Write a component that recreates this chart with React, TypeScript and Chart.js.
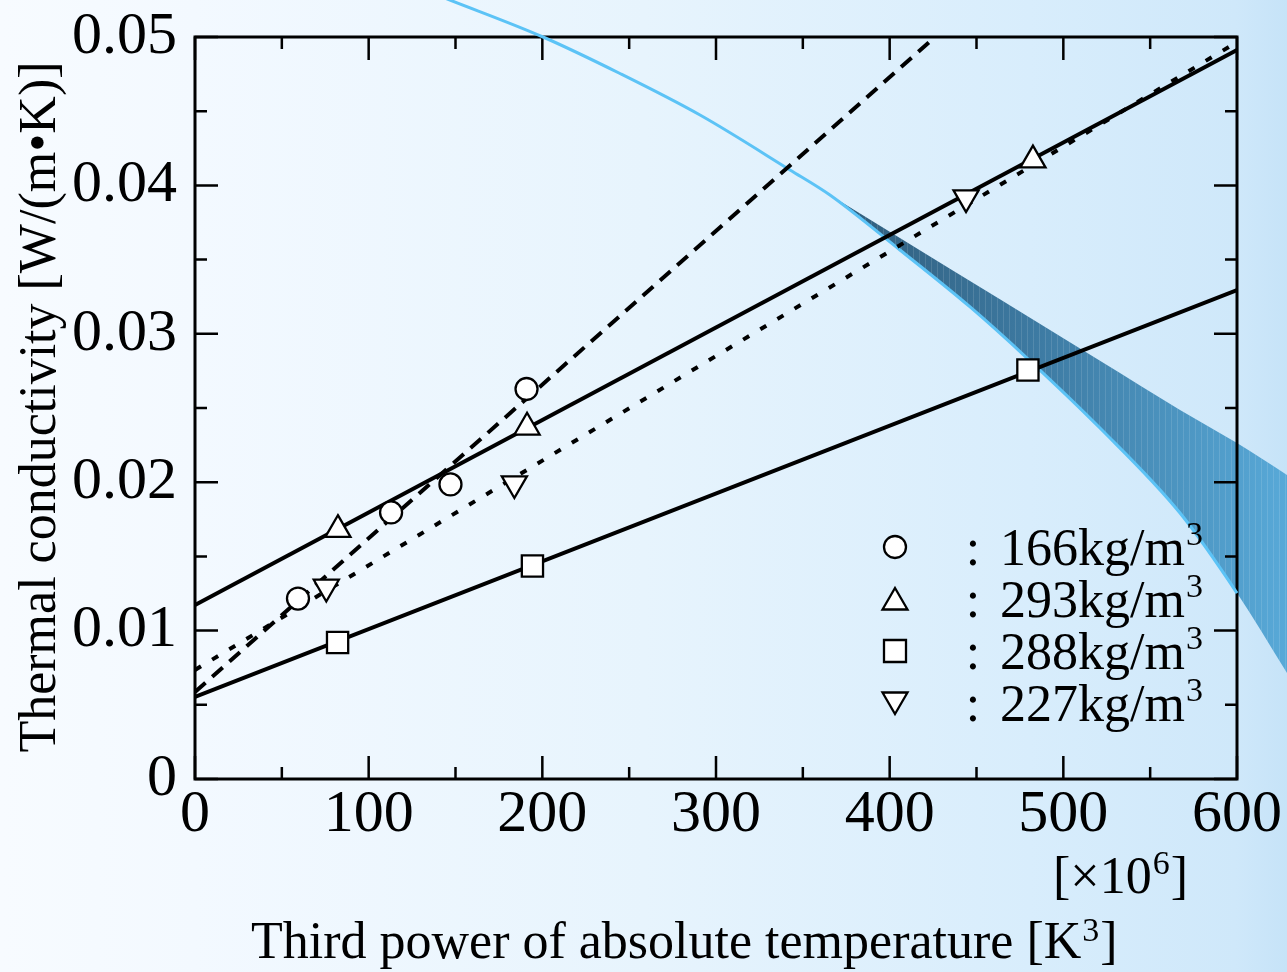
import React, { useEffect, useRef } from 'react';
import { Chart, registerables } from 'chart.js';
Chart.register(...registerables);

const FONT = "'Liberation Serif', 'Times New Roman', serif";

// ---- axis ticks ----
const xTickValues = [0, 100, 200, 300, 400, 500, 600];
const xTickLabels = ['0', '100', '200', '300', '400', '500', '600'];
const xMinorValues = [50, 150, 250, 350, 450, 550];
const yTickValues = [0, 0.01, 0.02, 0.03, 0.04, 0.05];
const yTickLabels = ['0', '0.01', '0.02', '0.03', '0.04', '0.05'];
const yMinorValues = [0.005, 0.015, 0.025, 0.035, 0.045];

// ---- measured points ----
const d166X = [59.3, 112.9, 147.1, 190.9];
const d166Y = [0.01216, 0.01796, 0.01985, 0.02628];
const d293X = [82.3, 191.2, 482.5];
const d293Y = [0.0168, 0.0237, 0.0417];
const d288X = [82.1, 194.3, 479.6];
const d288Y = [0.0092, 0.01435, 0.02756];
const d227X = [75.6, 183.9, 444.0];
const d227Y = [0.01294, 0.01991, 0.03918];

// ---- fitted lines ----
const fit166X = [0, 426.1];
const fit166Y = [0.00586, 0.05];
const fit293X = [0, 600];
const fit293Y = [0.01173, 0.04912];
const fit288X = [0, 600];
const fit288Y = [0.00553, 0.03295];
const fit227X = [0, 600];
const fit227Y = [0.00735, 0.04966];

// ---- blue curve and band ----
const curveX = [135.0, 146.8, 200.4, 244.7, 290.8, 342.6, 365.6, 405.9, 446.3, 479.7, 521.1, 567.2, 600, 628.8];
const curveY = [0.05303, 0.05249, 0.05, 0.04754, 0.04474, 0.04104, 0.03935, 0.03565, 0.03181, 0.0283, 0.02365, 0.01792, 0.01253, 0.00714];
const bandUpperX = [365.6, 405.9, 463.5, 521.1, 567.2, 600, 628.8];
const bandUpperY = [0.03935, 0.03646, 0.03232, 0.02818, 0.02487, 0.02264, 0.02049];

// ---- legend ----
const legendNames = ['166kg/m', '293kg/m', '288kg/m', '227kg/m'];
const legendShapes = ['circle', 'triangle', 'rect', 'invtriangle'];

const zip = (xs: number[], ys: number[]) => xs.map((x, i) => ({ x, y: ys[i] }));

const CURVE_INDEX = 8;
const UPPER_INDEX = 9;
const BAND_START = curveX.indexOf(bandUpperX[0]);

function traceEdge(ctx: CanvasRenderingContext2D, pts: any[], reverse: boolean, first: boolean) {
  const p = reverse ? [...pts].reverse() : pts;
  if (first) ctx.moveTo(p[0].x, p[0].y);
  else ctx.lineTo(p[0].x, p[0].y);
  for (let i = 1; i < p.length; i++) {
    const a = p[i - 1];
    const b = p[i];
    if (a.cp1x === undefined || b.cp1x === undefined) {
      ctx.lineTo(b.x, b.y);
    } else if (!reverse) {
      ctx.bezierCurveTo(a.cp2x, a.cp2y, b.cp1x, b.cp1y, b.x, b.y);
    } else {
      ctx.bezierCurveTo(a.cp1x, a.cp1y, b.cp2x, b.cp2y, b.x, b.y);
    }
  }
}

function drawShape(ctx: CanvasRenderingContext2D, shape: string, cx: number, cy: number) {
  ctx.save();
  ctx.fillStyle = '#ffffff';
  ctx.strokeStyle = '#000000';
  ctx.lineWidth = 2.3;
  ctx.beginPath();
  if (shape === 'circle') {
    ctx.arc(cx, cy, 11, 0, Math.PI * 2);
  } else if (shape === 'triangle') {
    ctx.moveTo(cx, cy - 11);
    ctx.lineTo(cx + 12.5, cy + 10.5);
    ctx.lineTo(cx - 12.5, cy + 10.5);
    ctx.closePath();
  } else if (shape === 'invtriangle') {
    ctx.moveTo(cx, cy + 11);
    ctx.lineTo(cx + 12.5, cy - 10.5);
    ctx.lineTo(cx - 12.5, cy - 10.5);
    ctx.closePath();
  } else {
    ctx.rect(cx - 11, cy - 11, 22, 22);
  }
  ctx.fill();
  ctx.stroke();
  ctx.restore();
}

const bgPlugin = {
  id: 'bgGradient',
  beforeDraw(chart: any) {
    const { ctx, width, height } = chart;
    const g = ctx.createLinearGradient(0, 0, width, 0);
    g.addColorStop(0, '#f7fbff');
    g.addColorStop(0.15, '#f3f9ff');
    g.addColorStop(0.5, '#e7f4fd');
    g.addColorStop(0.8, '#d8edfc');
    g.addColorStop(0.96, '#cfe8fa');
    g.addColorStop(1, '#c6e3f8');
    ctx.save();
    ctx.fillStyle = g;
    ctx.fillRect(0, 0, width, height);
    ctx.restore();
  },
};

const bandFramePlugin = {
  id: 'bandFrame',
  beforeDatasetsDraw(chart: any) {
    const { ctx, chartArea } = chart;
    const xs = chart.scales.x;
    const ys = chart.scales.y;
    // band
    const curveMeta = chart.getDatasetMeta(CURVE_INDEX);
    const upperMeta = chart.getDatasetMeta(UPPER_INDEX);
    curveMeta.dataset.updateControlPoints(chartArea, 'x');
    upperMeta.dataset.updateControlPoints(chartArea, 'x');
    const lower = curveMeta.data.slice(BAND_START);
    const upper = upperMeta.data;
    ctx.save();
    ctx.beginPath();
    traceEdge(ctx, upper, false, true);
    traceEdge(ctx, lower, true, false);
    ctx.closePath();
    const x0 = upper[0].x;
    const x1 = chart.width;
    const g = ctx.createLinearGradient(x0, 0, x1, 0);
    g.addColorStop(0, '#2f5b79');
    g.addColorStop(0.45, '#3d7aa2');
    g.addColorStop(1, '#58a9d8');
    ctx.fillStyle = g;
    ctx.fill();
    ctx.clip();
    ctx.strokeStyle = 'rgba(255,255,255,0.12)';
    ctx.lineWidth = 1;
    for (let x = Math.floor(x0); x < x1; x += 6) {
      ctx.beginPath();
      ctx.moveTo(x + 0.5, 0);
      ctx.lineTo(x + 0.5, chart.height);
      ctx.stroke();
    }
    ctx.restore();

    // frame and inward ticks
    const { left, right, top, bottom } = chartArea;
    ctx.save();
    ctx.strokeStyle = '#000000';
    ctx.lineWidth = 2.5;
    const major = 23;
    const minor = 12;
    ctx.beginPath();
    xTickValues.forEach((v) => {
      const px = xs.getPixelForValue(v);
      ctx.moveTo(px, bottom);
      ctx.lineTo(px, bottom - major);
      ctx.moveTo(px, top);
      ctx.lineTo(px, top + major);
    });
    xMinorValues.forEach((v) => {
      const px = xs.getPixelForValue(v);
      ctx.moveTo(px, bottom);
      ctx.lineTo(px, bottom - minor);
      ctx.moveTo(px, top);
      ctx.lineTo(px, top + minor);
    });
    yTickValues.forEach((v) => {
      const py = ys.getPixelForValue(v);
      ctx.moveTo(left, py);
      ctx.lineTo(left + major, py);
      ctx.moveTo(right, py);
      ctx.lineTo(right - major, py);
    });
    yMinorValues.forEach((v) => {
      const py = ys.getPixelForValue(v);
      ctx.moveTo(left, py);
      ctx.lineTo(left + minor, py);
      ctx.moveTo(right, py);
      ctx.lineTo(right - minor, py);
    });
    ctx.stroke();
    ctx.lineWidth = 3;
    ctx.strokeRect(left, top, right - left, bottom - top);
    ctx.restore();
  },
};

const textPlugin = {
  id: 'texts',
  afterDraw(chart: any) {
    const { ctx } = chart;
    ctx.save();
    ctx.fillStyle = '#000000';
    ctx.textBaseline = 'alphabetic';
    const big = `52px ${FONT}`;
    const sup = `34px ${FONT}`;

    // y title
    ctx.save();
    ctx.translate(55, 407);
    ctx.rotate(-Math.PI / 2);
    ctx.font = big;
    ctx.textAlign = 'center';
    ctx.fillText('Thermal conductivity [W/(m\u2022K)]', 0, 0);
    ctx.restore();

    ctx.textAlign = 'left';
    // x title
    let x = 251;
    const base = 958;
    ctx.font = big;
    const t1 = 'Third power of absolute temperature [K';
    ctx.fillText(t1, x, base);
    x += ctx.measureText(t1).width + 1;
    ctx.font = sup;
    ctx.fillText('3', x, base - 17);
    x += ctx.measureText('3').width + 1;
    ctx.font = big;
    ctx.fillText(']', x, base);

    // multiplier
    x = 1053;
    const base2 = 893;
    const t2 = '[\u00d710';
    ctx.font = big;
    ctx.fillText(t2, x, base2);
    x += ctx.measureText(t2).width + 1;
    ctx.font = sup;
    ctx.fillText('6', x, base2 - 19);
    x += ctx.measureText('6').width + 1;
    ctx.font = big;
    ctx.fillText(']', x, base2);

    // legend
    const baselines = [565, 617, 669, 721];
    legendNames.forEach((name, i) => {
      const b = baselines[i];
      drawShape(ctx, legendShapes[i], 895, b - 18);
      ctx.fillStyle = '#000000';
      ctx.font = big;
      ctx.textAlign = 'center';
      ctx.fillText(':', 973, b);
      ctx.textAlign = 'left';
      ctx.fillText(name, 1000, b);
      const w = ctx.measureText(name).width;
      ctx.font = sup;
      ctx.fillText('3', 1000 + w + 1, b - 20);
    });
    ctx.restore();
  },
};

const markerBase = {
  showLine: false,
  pointBackgroundColor: '#ffffff',
  pointBorderColor: '#000000',
  pointBorderWidth: 2.3,
  order: 0,
};

const lineBase = {
  showLine: true,
  borderColor: '#000000',
  borderWidth: 4,
  pointRadius: 0,
  fill: false,
  order: 1,
};

export default function App() {
  const ref = useRef<HTMLCanvasElement | null>(null);
  useEffect(() => {
    document.body.style.margin = '0';
    const canvas = ref.current;
    if (!canvas) return;
    const chart = new Chart(canvas, {
      type: 'scatter',
      data: {
        datasets: [
          { ...markerBase, label: '166', data: zip(d166X, d166Y), pointStyle: 'circle', pointRadius: 11 },
          { ...markerBase, label: '293', data: zip(d293X, d293Y), pointStyle: 'triangle', pointRadius: 14.5 },
          { ...markerBase, label: '288', data: zip(d288X, d288Y), pointStyle: 'rect', pointRadius: 15 },
          { ...markerBase, label: '227', data: zip(d227X, d227Y), pointStyle: 'triangle', rotation: 180, pointRadius: 14.5 },
          { ...lineBase, label: 'fit166', data: zip(fit166X, fit166Y), borderDash: [14, 9] },
          { ...lineBase, label: 'fit293', data: zip(fit293X, fit293Y) },
          { ...lineBase, label: 'fit288', data: zip(fit288X, fit288Y) },
          { ...lineBase, label: 'fit227', data: zip(fit227X, fit227Y), borderDash: [7, 13] },
          {
            label: 'curve',
            data: zip(curveX, curveY),
            showLine: true,
            borderColor: '#5cc3f6',
            borderWidth: 3,
            pointRadius: 0,
            cubicInterpolationMode: 'monotone',
            capBezierPoints: false,
            clip: false,
            fill: false,
            order: 5,
          },
          {
            label: 'upper',
            data: zip(bandUpperX, bandUpperY),
            showLine: true,
            borderWidth: 0,
            borderColor: 'rgba(0,0,0,0)',
            pointRadius: 0,
            cubicInterpolationMode: 'monotone',
            capBezierPoints: false,
            clip: false,
            fill: false,
            order: 6,
          },
        ],
      } as any,
      options: {
        animation: false,
        responsive: false,
        devicePixelRatio: 1,
        events: [],
        layout: { padding: { top: 37, right: 50, left: 0, bottom: 0 } },
        plugins: { legend: { display: false }, tooltip: { enabled: false } },
        scales: {
          x: {
            type: 'linear',
            min: 0,
            max: 600,
            grid: { display: false },
            border: { display: false },
            afterFit: (s: any) => {
              s.height = 193;
              s.paddingLeft = 0;
              s.paddingRight = 0;
            },
            afterBuildTicks: (s: any) => { s.ticks = xTickValues.map((v) => ({ value: v })); },
            ticks: {
              font: { family: FONT, size: 60 },
              color: '#000000',
              padding: -8,
              maxRotation: 0,
              autoSkip: false,
              callback: (_v: any, i: number) => xTickLabels[i],
            },
          },
          y: {
            type: 'linear',
            min: 0,
            max: 0.05,
            grid: { display: false },
            border: { display: false },
            afterFit: (s: any) => {
              s.width = 195;
              s.paddingTop = 0;
              s.paddingBottom = 0;
            },
            afterBuildTicks: (s: any) => { s.ticks = yTickValues.map((v) => ({ value: v })); },
            ticks: {
              font: { family: FONT, size: 60 },
              color: '#000000',
              padding: 10,
              autoSkip: false,
              callback: (_v: any, i: number) => yTickLabels[i],
            },
          },
        },
      } as any,
      plugins: [bgPlugin, bandFramePlugin, textPlugin],
    });
    return () => chart.destroy();
  }, []);
  return (
    <div style={{ width: 1287, height: 972 }}>
      <canvas ref={ref} width={1287} height={972} style={{ display: 'block' }} />
    </div>
  );
}
